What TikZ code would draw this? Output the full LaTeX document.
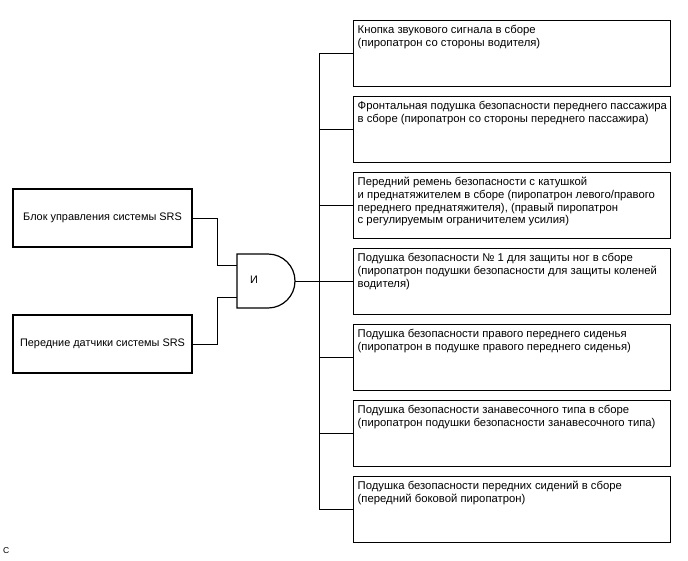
\documentclass[tikz,border=0pt]{standalone}
\usepackage{fontspec}
\setmainfont{Liberation Sans}
\begin{document}
\begin{tikzpicture}[x=1pt,y=-1pt,
  lbox/.style={draw,line width=1.2pt,minimum width=179pt,minimum height=58pt,inner sep=0pt,font=\fontsize{10.9}{13}\selectfont},
  rbox/.style={draw,line width=1.2pt,minimum width=317pt,minimum height=66pt,inner sep=0pt,anchor=north west},
  rtext/.style={anchor=north west,align=left,inner sep=0pt,font=\fontsize{11.3}{12.8}\selectfont},
  wire/.style={line width=0.9pt}]
\useasboundingbox (0,0) rectangle (688,560);
\fill[white] (0,0) rectangle (688,560);
% left boxes
\node[lbox] (b1) at (102.5,218) {Блок управления системы SRS};
\node[lbox] (b2) at (102.5,344) {Передние датчики системы SRS};
% gate
\coordinate (gi1) at (237,265);
\coordinate (gi2) at (237,297);
\coordinate (go) at (295,281);
\draw[line width=1.2pt] (237,254) -- (268,254) arc[start angle=-90,end angle=90,radius=27] -- (237,308) -- cycle;
\node[font=\fontsize{10.9}{13}\selectfont] (gl) at (254,280) {И};
\draw[wire] (b1.east) -- ++(25,0) |- (gi1);
\draw[wire] (b2.east) -- ++(25,0) |- (gi2);
% right boxes
\foreach \i/\t in {1/20,2/96,3/172,4/248,5/324,6/400,7/476}{
  \node[rbox] (r\i) at (353,\t) {};
}
\node[rtext] (t1) at ([xshift=4.5pt,yshift=-5pt]r1.north west) {Кнопка звукового сигнала в сборе\\(пиропатрон со стороны водителя)};
\node[rtext] (t2) at ([xshift=4.5pt,yshift=-5pt]r2.north west) {Фронтальная подушка безопасности переднего пассажира\\в сборе (пиропатрон со стороны переднего пассажира)};
\node[rtext] (t3) at ([xshift=4.5pt,yshift=-5pt]r3.north west) {Передний ремень безопасности с катушкой\\и преднатяжителем в сборе (пиропатрон левого/правого\\переднего преднатяжителя), (правый пиропатрон\\с регулируемым ограничителем усилия)};
\node[rtext] (t4) at ([xshift=4.5pt,yshift=-5pt]r4.north west) {Подушка безопасности № 1 для защиты ног в сборе\\(пиропатрон подушки безопасности для защиты коленей\\водителя)};
\node[rtext] (t5) at ([xshift=4.5pt,yshift=-5pt]r5.north west) {Подушка безопасности правого переднего сиденья\\(пиропатрон в подушке правого переднего сиденья)};
\node[rtext] (t6) at ([xshift=4.5pt,yshift=-5pt]r6.north west) {Подушка безопасности занавесочного типа в сборе\\(пиропатрон подушки безопасности занавесочного типа)};
\node[rtext] (t7) at ([xshift=4.5pt,yshift=-5pt]r7.north west) {Подушка безопасности передних сидений в сборе\\(передний боковой пиропатрон)};
% bus
\coordinate (bx) at (319,281);
\draw[wire] (go) -- (bx);
\draw[wire] (r1.west -| bx) -- (r7.west -| bx);
\foreach \i in {1,...,7}{
  \draw[wire] (r\i.west -| bx) -- (r\i.west);
}
\node[font=\fontsize{8.5}{10}\selectfont,anchor=west,inner sep=0pt] (c) at (3,551) {С};
\end{tikzpicture}
\end{document}
